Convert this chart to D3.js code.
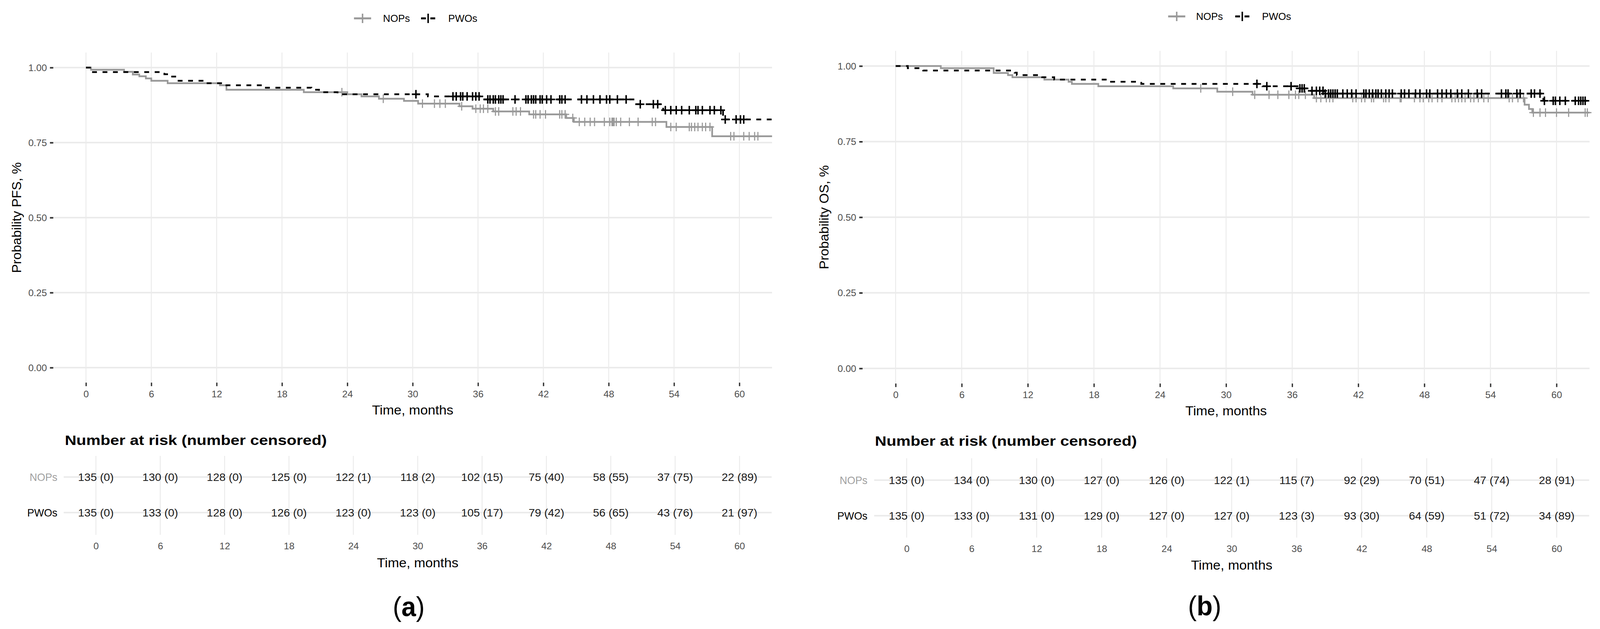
<!DOCTYPE html>
<html>
<head>
<meta charset="utf-8">
<script src="https://cdn.jsdelivr.net/npm/d3@7"></script>
<style>
  html, body { margin: 0; padding: 0; background: #fff; overflow: hidden; }
  svg { display: block; }
  text { font-family: "Liberation Sans", Arial, sans-serif; }
</style>
</head>
<body>
<div class="canvas"></div>
<script>
// ---- data ----
const months = [0, 6, 12, 18, 24, 30, 36, 42, 48, 54, 60];
const yTicks = [0, 0.25, 0.5, 0.75, 1];
const groups = ['NOPs', 'PWOs'];

// (a) progression-free survival, step times and survival after each step
const pfsNopTime = [0, 0.46, 3.5, 4.3, 4.9, 5.5, 6.0, 7.5, 12.3, 12.9, 20.0, 24.0, 25.3, 26.9, 29.2, 30.5, 34.3, 35.5, 37.4, 40.7, 44.1, 44.8, 53.3, 57.5];
const pfsNopSurv = [1, 0.993, 0.986, 0.977, 0.971, 0.964, 0.956, 0.948, 0.941, 0.926, 0.918, 0.911, 0.904, 0.896, 0.889, 0.880, 0.871, 0.863, 0.854, 0.844, 0.832, 0.819, 0.802, 0.771];
const pfsNopCensor = [23.5, 27.3, 30.9, 32.0, 32.5, 33.0, 34.5, 35.8, 36.2, 36.5, 36.9, 37.6, 37.9, 39.2, 39.5, 39.9, 41.1, 41.3, 41.7, 42.2, 43.5, 43.7, 44.0, 44.7, 45.3, 45.8, 46.3, 46.7, 47.6, 48.1, 48.3, 48.4, 48.5, 48.7, 49.1, 49.9, 50.7, 52.0, 52.3, 53.7, 54.2, 55.4, 55.6, 55.9, 56.2, 56.6, 56.9, 57.3, 59.2, 59.5, 60.4, 60.9, 61.4, 61.7];
const pfsPwoTime = [0, 0.46, 7.2, 7.7, 8.2, 8.5, 10.9, 12.5, 16.2, 20.7, 21.4, 23.1, 31.4, 36.4, 50.4, 53.0, 58.5];
const pfsPwoSurv = [1, 0.985, 0.978, 0.970, 0.963, 0.956, 0.948, 0.941, 0.933, 0.926, 0.918, 0.911, 0.904, 0.894, 0.878, 0.858, 0.827];
const pfsPwoCensor = [30.3, 33.7, 34.0, 34.4, 34.6, 35.0, 35.5, 35.8, 36.1, 36.9, 37.1, 37.4, 37.6, 37.9, 38.1, 38.3, 39.4, 40.4, 40.6, 40.9, 41.1, 41.3, 41.7, 41.9, 42.3, 42.7, 43.5, 43.7, 44.0, 45.5, 46.0, 46.6, 47.2, 47.8, 48.1, 48.8, 49.6, 50.9, 52.1, 52.5, 53.2, 53.7, 54.2, 54.7, 55.4, 56.0, 56.2, 56.6, 57.3, 57.7, 58.3, 58.7, 59.7, 60.1, 60.4];

// (b) overall survival
const osNopTime = [0, 4.1, 8.9, 10.2, 10.6, 13.5, 15.7, 16.0, 18.4, 25.2, 29.2, 32.4, 38.0, 57.1, 57.5, 57.8];
const osNopSurv = [1, 0.993, 0.977, 0.970, 0.963, 0.955, 0.948, 0.941, 0.933, 0.926, 0.915, 0.905, 0.894, 0.872, 0.858, 0.846];
const osNopCensor = [27.7, 30.6, 32.6, 33.9, 34.7, 35.7, 36.3, 36.6, 37.2, 38.2, 38.6, 39.1, 39.4, 39.7, 41.5, 41.8, 42.3, 42.6, 43.2, 43.4, 44.3, 44.5, 44.8, 45.8, 45.9, 47.1, 47.6, 47.9, 48.4, 48.7, 49.2, 49.6, 50.5, 50.8, 51.1, 51.4, 51.7, 52.2, 52.5, 52.9, 53.4, 53.8, 55.7, 56.0, 56.5, 57.0, 57.9, 58.5, 59.0, 60.0, 61.1, 62.6, 62.8];
const osPwoTime = [0, 1.1, 2.5, 10.8, 11.0, 13.3, 14.4, 19.3, 22.3, 33.3, 36.6, 37.3, 38.9, 58.8];
const osPwoSurv = [1, 0.993, 0.985, 0.978, 0.970, 0.963, 0.955, 0.948, 0.941, 0.933, 0.926, 0.918, 0.909, 0.885];
const osPwoCensor = [32.8, 33.7, 35.9, 36.7, 36.9, 37.1, 37.8, 38.2, 38.5, 38.8, 39.0, 39.3, 39.5, 39.7, 39.9, 40.1, 40.6, 41.0, 41.4, 41.8, 42.5, 42.7, 43.0, 43.3, 43.6, 43.8, 44.1, 44.5, 44.8, 45.1, 45.9, 46.2, 46.6, 47.2, 47.6, 48.2, 48.5, 49.2, 49.6, 50.0, 50.4, 51.0, 51.4, 52.0, 52.8, 53.2, 55.0, 55.4, 55.6, 56.4, 56.7, 57.7, 58.0, 58.5, 58.9, 59.7, 59.9, 60.3, 60.8, 61.7, 62.0, 62.2, 62.4, 62.6];

// number at risk (number censored)
const pfsNopRisk = [135, 130, 128, 125, 122, 118, 102, 75, 58, 37, 22];
const pfsNopCens = [0, 0, 0, 0, 1, 2, 15, 40, 55, 75, 89];
const pfsPwoRisk = [135, 133, 128, 126, 123, 123, 105, 79, 56, 43, 21];
const pfsPwoCens = [0, 0, 0, 0, 0, 0, 17, 42, 65, 76, 97];
const osNopRisk = [135, 134, 130, 127, 126, 122, 115, 92, 70, 47, 28];
const osNopCens = [0, 0, 0, 0, 0, 1, 7, 29, 51, 74, 91];
const osPwoRisk = [135, 133, 131, 129, 127, 127, 123, 93, 64, 51, 34];
const osPwoCens = [0, 0, 0, 0, 0, 0, 3, 30, 59, 72, 89];

// ---- look ----
const colors = {NOPs: '#999999', PWOs: '#000000'};
const GRID = '#EBEBEB';
const xDomain = [-3, 63];
const SX = 1.12;   // text in the reference is widened a little
const W = 4294, H = 1610;

// drawn in a fixed 4294x1610 space, stretched to whatever the window is
const svg = d3.select('.canvas').append('svg')
    .attr('viewBox', `0 0 ${W} ${H}`)
    .attr('preserveAspectRatio', 'none')
    .style('width', '100vw')
    .style('height', '100vh');

// text helper, stretched sideways like the picture
function label(g, x, y, str, o = {}) {
  return g.append('text')
    .attr('transform', `translate(${x},${y}) scale(${o.sx || SX},1)`)
    .attr('text-anchor', o.anchor || 'middle')
    .attr('dominant-baseline', 'central')
    .attr('font-size', o.size || 24)
    .attr('font-weight', o.weight || 'normal')
    .attr('fill', o.fill || '#000')
    .text(str);
}

const stepAt = (ts, ss, t) => ss[d3.bisectRight(ts, t) - 1];

function drawPanel(p) {
  const g = svg.append('g');
  const x = d3.scaleLinear().domain(xDomain).range([p.x0, p.x1]);
  const y = d3.scaleLinear().domain([0, 1]).range([p.yZero, p.yOne]);
  const top = y(1.05), bot = y(-0.05);

  // grid
  g.append('g').selectAll('line').data(months).join('line')
    .attr('x1', d => x(d)).attr('x2', d => x(d))
    .attr('y1', top).attr('y2', bot)
    .attr('stroke', GRID).attr('stroke-width', 2.5);
  g.append('g').selectAll('line').data(yTicks).join('line')
    .attr('x1', p.x0).attr('x2', p.x1)
    .attr('y1', d => y(d)).attr('y2', d => y(d))
    .attr('stroke', GRID).attr('stroke-width', 4);

  // axes
  const ax = g.append('g').attr('transform', `translate(0,${bot})`)
    .call(d3.axisBottom(x).tickValues(months).tickSize(9).tickSizeOuter(0));
  ax.select('.domain').remove();
  ax.selectAll('.tick line').attr('stroke', '#333').attr('stroke-width', 3.5);
  ax.selectAll('.tick text')
    .attr('y', p.xLabY - bot).attr('dy', null)
    .attr('dominant-baseline', 'central')
    .attr('transform', `scale(${SX},1)`)
    .attr('font-size', 23).attr('fill', '#4D4D4D')
    .attr('font-family', '"Liberation Sans", Arial, sans-serif');

  const ay = g.append('g').attr('transform', `translate(${p.x0},0)`)
    .call(d3.axisLeft(y).tickValues(yTicks).tickFormat(d3.format('.2f')).tickSize(9).tickSizeOuter(0));
  ay.select('.domain').remove();
  ay.selectAll('.tick line').attr('stroke', '#333').attr('stroke-width', 4);
  ay.selectAll('.tick text')
    .attr('x', -17 / SX).attr('dy', null)
    .attr('dominant-baseline', 'central')
    .attr('transform', `scale(${SX},1)`)
    .attr('font-size', 23).attr('fill', '#4D4D4D')
    .attr('font-family', '"Liberation Sans", Arial, sans-serif');

  label(g, (p.x0 + p.x1) / 2, p.xTitleY, 'Time, months', {size: 33, sx: 1.1});
  g.append('text')
    .attr('transform', `translate(${p.yTitleX},${(top + bot) / 2}) rotate(-90)`)
    .attr('text-anchor', 'middle').attr('dominant-baseline', 'central')
    .attr('font-size', 34).attr('fill', '#000')
    .text(p.yTitle);

  // curves: grey first, its censor marks, then black on top
  const line = d3.line().curve(d3.curveStepAfter).x(d => x(d[0])).y(d => y(d[1]));
  p.series.forEach(s => {
    const pts = s.time.map((t, i) => [t, s.surv[i]]);
    pts.push([xDomain[1], s.surv[s.surv.length - 1]]);
    g.append('path').datum(pts)
      .attr('d', line)
      .attr('fill', 'none')
      .attr('stroke', colors[s.name])
      .attr('stroke-width', 4.5)
      .attr('stroke-dasharray', s.name === 'PWOs' ? '13,15' : null);
    g.append('g').selectAll('path').data(s.censor).join('path')
      .attr('d', t => {
        const cx = x(t), cy = y(stepAt(s.time, s.surv, t));
        return `M${cx - 11},${cy}H${cx + 11}M${cx},${cy - 11}V${cy + 11}`;
      })
      .attr('stroke', colors[s.name])
      .attr('stroke-width', s.name === 'PWOs' ? 4 : 3);
  });

  // legend
  const lg = g.append('g');
  groups.forEach((name, i) => {
    const cx = p.legend[i * 2], tx = p.legend[i * 2 + 1];
    const half = name === 'PWOs' ? 19 : 23;
    lg.append('line')
      .attr('x1', cx - half).attr('x2', cx + half)
      .attr('y1', p.legendY).attr('y2', p.legendY)
      .attr('stroke', colors[name]).attr('stroke-width', 5)
      .attr('stroke-dasharray', name === 'PWOs' ? '13,12' : null);
    lg.append('line')
      .attr('x1', cx).attr('x2', cx)
      .attr('y1', p.legendY - 12).attr('y2', p.legendY + 12)
      .attr('stroke', colors[name]).attr('stroke-width', 4);
    label(lg, tx, p.legendY, name, {anchor: 'start', size: 25, sx: 1.08});
  });

  // risk table
  const t = p.table;
  const tx = d3.scaleLinear().domain(xDomain).range([t.x0, t.x1]);
  const tg = g.append('g');
  label(tg, t.titleX, t.titleY, 'Number at risk (number censored)', {anchor: 'start', size: 35, weight: 'bold', sx: 1.23});
  tg.append('g').selectAll('line').data(months).join('line')
    .attr('x1', d => tx(d)).attr('x2', d => tx(d))
    .attr('y1', t.gridTop).attr('y2', t.gridBot)
    .attr('stroke', GRID).attr('stroke-width', 2.5);
  tg.append('g').selectAll('line').data(t.rowY).join('line')
    .attr('x1', t.x0).attr('x2', t.x1)
    .attr('y1', d => d).attr('y2', d => d)
    .attr('stroke', GRID).attr('stroke-width', 4);
  t.rows.forEach((r, i) => {
    const ry = t.rowY[i];
    label(tg, t.labelRight, ry, r.name, {anchor: 'end', size: 28, sx: 1.0, fill: colors[r.name] === '#000000' ? '#000' : '#A0A0A0'});
    months.forEach((m, j) => {
      label(tg, tx(m), ry, `${r.risk[j]} (${r.cens[j]})`, {size: 28, sx: 1.08, fill: '#1A1A1A'});
    });
  });
  const tax = tg.append('g').attr('transform', `translate(0,${t.tickY})`)
    .call(d3.axisBottom(tx).tickValues(months).tickSize(0));
  tax.select('.domain').remove();
  tax.selectAll('.tick text')
    .attr('y', 0).attr('dy', null)
    .attr('dominant-baseline', 'central')
    .attr('transform', `scale(${SX},1)`)
    .attr('font-size', 23).attr('fill', '#4D4D4D')
    .attr('font-family', '"Liberation Sans", Arial, sans-serif');
  label(tg, (t.x0 + t.x1) / 2, t.titleAxisY, 'Time, months', {size: 33, sx: 1.1});

  // caption
  const cap = g.append('text')
    .attr('x', p.caption[0]).attr('y', p.caption[1])
    .attr('text-anchor', 'middle').attr('dominant-baseline', 'central')
    .attr('font-family', '"Liberation Serif", "Times New Roman", serif')
    .attr('font-size', 70).attr('fill', '#000');
  cap.append('tspan').text('(');
  cap.append('tspan').attr('font-weight', 'bold').text(p.caption[2]);
  cap.append('tspan').text(')');
}

drawPanel({
  x0: 143, x1: 2072, yZero: 941, yOne: 173,
  xLabY: 1009, xTitleY: 1049, yTitleX: 45, yTitle: 'Probability PFS, %',
  legendY: 47, legend: [973, 1028, 1149, 1203],
  series: [
    {name: 'NOPs', time: pfsNopTime, surv: pfsNopSurv, censor: pfsNopCensor},
    {name: 'PWOs', time: pfsPwoTime, surv: pfsPwoSurv, censor: pfsPwoCensor}
  ],
  table: {
    titleX: 174, titleY: 1127, x0: 171, x1: 2071, rowY: [1221, 1312],
    gridTop: 1167, gridBot: 1369, labelRight: 154, tickY: 1398, titleAxisY: 1440,
    rows: [
      {name: 'NOPs', risk: pfsNopRisk, cens: pfsNopCens},
      {name: 'PWOs', risk: pfsPwoRisk, cens: pfsPwoCens}
    ]
  },
  caption: [1097, 1552, 'a']
});

drawPanel({
  x0: 2315, x1: 4266, yZero: 943, yOne: 169,
  xLabY: 1011, xTitleY: 1051, yTitleX: 2212, yTitle: 'Probability OS, %',
  legendY: 42, legend: [3158, 3210, 3334, 3387],
  series: [
    {name: 'NOPs', time: osNopTime, surv: osNopSurv, censor: osNopCensor},
    {name: 'PWOs', time: osPwoTime, surv: osPwoSurv, censor: osPwoCensor}
  ],
  table: {
    titleX: 2348, titleY: 1129, x0: 2346, x1: 4265, rowY: [1229, 1320],
    gridTop: 1173, gridBot: 1376, labelRight: 2328, tickY: 1405, titleAxisY: 1446,
    rows: [
      {name: 'NOPs', risk: osNopRisk, cens: osNopCens},
      {name: 'PWOs', risk: osPwoRisk, cens: osPwoCens}
    ]
  },
  caption: [3233, 1550, 'b']
});
</script>
</body>
</html>
